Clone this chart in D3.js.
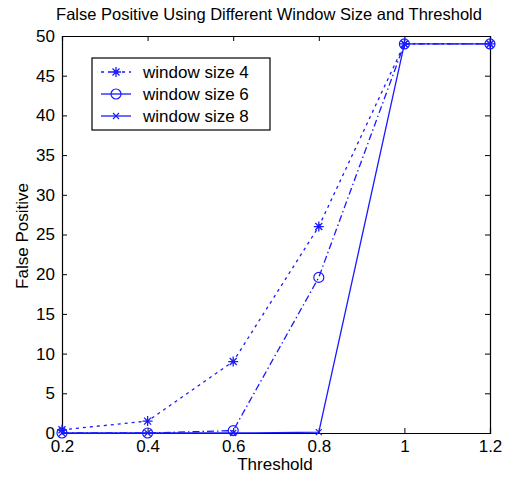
<!DOCTYPE html>
<html>
<head>
<meta charset="utf-8">
<script src="https://cdn.jsdelivr.net/npm/d3@7"></script>
<style>
body { margin: 0; background: #fff; }
svg text { font-family: "Liberation Sans", Arial, sans-serif; fill: #000; }
</style>
</head>
<body>
<div id="the_chart"></div>
<script>
let thresholds = [0.2, 0.4, 0.6, 0.8, 1.0, 1.2];
let win4 = [0.4, 1.5, 9, 26, 49, 49];
let win6 = [0, 0, 0.3, 19.6, 49, 49];
let win8 = [0, 0, 0, 0.1, 49, 49];
let series_names = ["window size 4", "window size 6", "window size 8"];
let x_ticks = [0.2, 0.4, 0.6, 0.8, 1, 1.2];
let y_ticks = [0, 5, 10, 15, 20, 25, 30, 35, 40, 45, 50];

function gen_vis() {
    var w = 513, h = 477;
    var left = 62, right = 490, top = 36, bottom = 433;
    var blue = "#1a1aff";

    var xscale = d3.scaleLinear().domain([0.2, 1.2]).range([left, right]);
    var yscale = d3.scaleLinear().domain([0, 50]).range([bottom, top]);

    var svg = d3.select("#the_chart").append("svg")
        .attr("width", w)
        .attr("height", h);

    // axes box with inward ticks on all sides
    var xaxis = d3.axisBottom(xscale).tickValues(x_ticks).tickSize(-5).tickPadding(7)
        .tickFormat(d3.format("~g"));
    var yaxis = d3.axisLeft(yscale).tickValues(y_ticks).tickSize(-5).tickPadding(7);
    var gx = svg.append("g").attr("transform", "translate(0," + bottom + ")").call(xaxis);
    var gy = svg.append("g").attr("transform", "translate(" + left + ",0)").call(yaxis);
    svg.append("g").attr("transform", "translate(0," + top + ")")
        .call(d3.axisTop(xscale).tickValues(x_ticks).tickSize(-5).tickFormat(""));
    svg.append("g").attr("transform", "translate(" + right + ",0)")
        .call(d3.axisRight(yscale).tickValues(y_ticks).tickSize(-5).tickFormat(""));
    svg.selectAll(".domain").attr("stroke", "#000").attr("stroke-width", 1.2);
    svg.selectAll(".tick line").attr("stroke", "#000");
    gx.selectAll("text").style("font-size", "17px");
    gy.selectAll("text").style("font-size", "17px");

    var line = function(vals) {
        return d3.line()
            .x(function(d, i) { return xscale(thresholds[i]); })
            .y(function(d) { return yscale(d); })(vals);
    };

    var series = [
        { vals: win8, dash: null, marker: "x" },
        { vals: win6, dash: "7,3,1.5,3", marker: "o" },
        { vals: win4, dash: "3,4", marker: "*" }
    ];

    function drawMarker(g, type, x, y) {
        if (type === "o") {
            g.append("circle").attr("cx", x).attr("cy", y).attr("r", 5)
                .attr("fill", "none").attr("stroke", blue).attr("stroke-width", 1.2);
        } else if (type === "x") {
            var s = 3;
            g.append("path").attr("d", "M" + (x - s) + "," + (y - s) + "L" + (x + s) + "," + (y + s) +
                "M" + (x - s) + "," + (y + s) + "L" + (x + s) + "," + (y - s))
                .attr("stroke", blue).attr("stroke-width", 1.1);
        } else {
            var r = 5, d = 3.5;
            g.append("path").attr("d", "M" + (x - r) + "," + y + "L" + (x + r) + "," + y +
                "M" + x + "," + (y - r) + "L" + x + "," + (y + r) +
                "M" + (x - d) + "," + (y - d) + "L" + (x + d) + "," + (y + d) +
                "M" + (x - d) + "," + (y + d) + "L" + (x + d) + "," + (y - d))
                .attr("stroke", blue).attr("stroke-width", 1.3);
        }
    }

    series.forEach(function(s) {
        svg.append("path")
            .attr("d", line(s.vals))
            .attr("fill", "none")
            .attr("stroke", blue)
            .attr("stroke-width", 1.3)
            .attr("stroke-dasharray", s.dash);
        var g = svg.append("g");
        s.vals.forEach(function(v, i) {
            drawMarker(g, s.marker, xscale(thresholds[i]), yscale(v));
        });
    });

    // legend
    var lg = svg.append("g");
    lg.append("rect").attr("x", 92).attr("y", 58).attr("width", 178).attr("height", 72)
        .attr("fill", "#fff").attr("stroke", "#000").attr("stroke-width", 1.2);
    var legend_styles = [
        { dash: "3,4", marker: "*" },
        { dash: null, marker: "o" },
        { dash: null, marker: "x" }
    ];
    series_names.forEach(function(name, i) {
        var y = 72 + i * 22;
        lg.append("line").attr("x1", 101).attr("x2", 131).attr("y1", y).attr("y2", y)
            .attr("stroke", blue).attr("stroke-width", 1.3)
            .attr("stroke-dasharray", legend_styles[i].dash);
        drawMarker(lg, legend_styles[i].marker, 116, y);
        lg.append("text").attr("x", 143).attr("y", y + 6).style("font-size", "17px").text(name);
    });

    // labels
    svg.append("text").attr("x", 269).attr("y", 20).attr("text-anchor", "middle")
        .style("font-size", "16.5px").text("False Positive Using Different Window Size and Threshold");
    svg.append("text").attr("x", 275).attr("y", 470).attr("text-anchor", "middle")
        .style("font-size", "17px").text("Threshold");
    svg.append("text").attr("transform", "translate(28,236) rotate(-90)").attr("text-anchor", "middle")
        .style("font-size", "17px").text("False Positive");
}

gen_vis();
</script>
</body>
</html>
